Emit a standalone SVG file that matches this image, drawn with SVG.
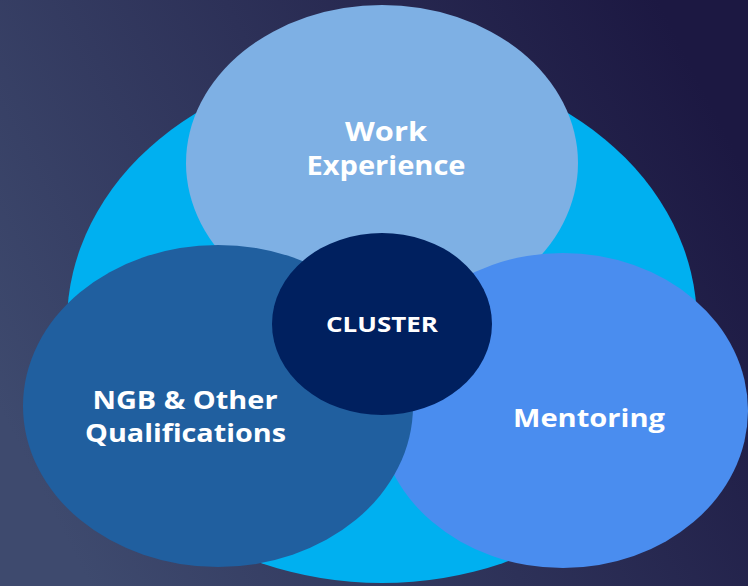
<svg xmlns="http://www.w3.org/2000/svg" width="748" height="586" viewBox="0 0 748 586">
  <defs>
    <linearGradient id="bg" x1="0" y1="0.7" x2="1" y2="0.3">
      <stop offset="0" stop-color="#3e4a6e"/>
      <stop offset="1" stop-color="#1c1842"/>
    </linearGradient>
    <style>
      .lbl { font-family: "Open Sans", "Noto Sans", "Liberation Sans", sans-serif; font-weight: 700; fill: #ffffff; text-anchor: middle; }
    </style>
  </defs>
  <rect x="0" y="0" width="748" height="586" fill="url(#bg)"/>
  <g id="backdrop">
    <ellipse cx="382" cy="323" rx="315" ry="260" fill="#00b0f0"/>
  </g>
  <g id="connectors"></g>
  <g id="work-experience">
    <ellipse cx="382" cy="163" rx="196" ry="158" fill="#7eb0e4"/>
    <text class="lbl" x="386" y="141" font-size="27" textLength="82" lengthAdjust="spacingAndGlyphs">Work</text>
    <text class="lbl" x="386" y="175" font-size="27" textLength="159" lengthAdjust="spacingAndGlyphs">Experience</text>
  </g>
  <g id="mentoring">
    <ellipse cx="563" cy="410.5" rx="185" ry="157.5" fill="#4a8def"/>
    <text class="lbl" x="589" y="427" font-size="25" textLength="152" lengthAdjust="spacingAndGlyphs">Mentoring</text>
  </g>
  <g id="ngb-qualifications">
    <ellipse cx="218" cy="406" rx="195" ry="161" fill="#205f9f"/>
    <text class="lbl" x="185" y="409" font-size="25" textLength="185" lengthAdjust="spacingAndGlyphs">NGB &amp; Other</text>
    <text class="lbl" x="185.5" y="442" font-size="25" textLength="201" lengthAdjust="spacingAndGlyphs">Qualifications</text>
  </g>
  <g id="cluster">
    <ellipse cx="382" cy="324" rx="110" ry="91" fill="#00205f"/>
    <text class="lbl" x="382" y="332" font-size="22" textLength="112" lengthAdjust="spacingAndGlyphs">CLUSTER</text>
  </g>
</svg>
